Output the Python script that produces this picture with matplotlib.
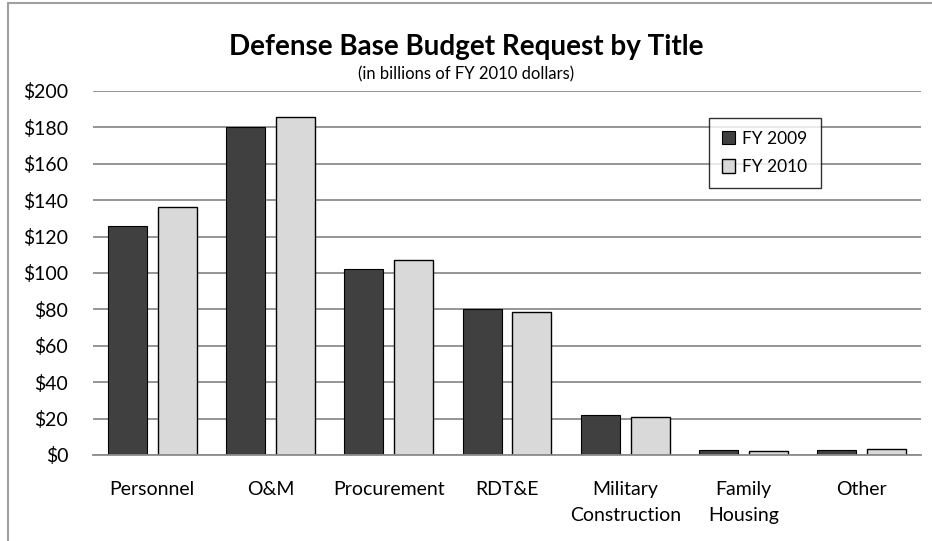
import matplotlib
matplotlib.use("Agg")
import numpy as np
from matplotlib import pyplot as plt
from matplotlib.patches import Rectangle

categories = ['Personnel', 'O&M', 'Procurement', 'RDT&E', 'Military\nConstruction',
              'Family\nHousing', 'Other']
fy2009 = [126, 180, 102, 80, 21.8, 2.9, 2.7]
fy2010 = [136, 185.5, 107, 78.6, 20.9, 2.3, 3.4]
yticks = [0, 20, 40, 60, 80, 100, 120, 140, 160, 180, 200]


def main():
    plt.rcParams['font.family'] = ['Lato', 'DejaVu Sans']
    fig = plt.figure(figsize=(9.32, 5.41), dpi=100)
    ax = fig.add_axes([0.1, 0.159, 0.888, 0.673])

    x = np.arange(len(categories))
    w = 0.33
    ax.bar(x - 0.21, fy2009, width=w, color='#404040', edgecolor='#000000',
           linewidth=0.8, label='FY 2009', zorder=3)
    ax.bar(x + 0.21, fy2010, width=w, color='#d9d9d9', edgecolor='#000000',
           linewidth=1.0, label='FY 2010', zorder=3)

    ax.set_xlim(-0.5, len(categories) - 0.5)
    ax.set_ylim(0, 200)
    ax.set_yticks(yticks)
    ax.set_yticklabels(['$%d' % v for v in yticks], fontsize=14)
    ax.set_xticks(x)
    ax.set_xticklabels(categories, fontsize=14, linespacing=1.6)
    ax.tick_params(length=0)
    ax.tick_params(axis='y', pad=18)
    ax.tick_params(axis='x', pad=19)
    ax.yaxis.grid(True, color='#8c8c8c', linewidth=1.3, zorder=0)
    for s in ['left', 'right', 'top']:
        ax.spines[s].set_visible(False)
    ax.spines['bottom'].set_color('#8c8c8c')
    ax.spines['bottom'].set_linewidth(1.3)
    ax.spines['bottom'].set_zorder(4)

    leg = ax.legend(loc='upper left', bbox_to_anchor=(0.733, 0.95), fontsize=12.5,
                    frameon=True, fancybox=False, edgecolor='#000000',
                    handlelength=0.8, handleheight=0.8, handletextpad=0.4,
                    labelspacing=0.7, borderpad=0.75)
    leg.get_frame().set_linewidth(1.0)
    leg.set_zorder(5)

    fig.text(0.5, 0.914, 'Defense Base Budget Request by Title', ha='center', va='center',
             fontsize=20, fontweight='bold')
    fig.text(0.5, 0.863, '(in billions of FY 2010 dollars)', ha='center', va='center',
             fontsize=12)

    fig.patches.append(Rectangle((8 / 932, -0.1), 1.2, 1.1 - 3 / 541,
                                 transform=fig.transFigure, fill=False,
                                 edgecolor='#a0a0a0', linewidth=1.5))

    fig.savefig('out.png', dpi=100)


if __name__ == "__main__":
    main()
